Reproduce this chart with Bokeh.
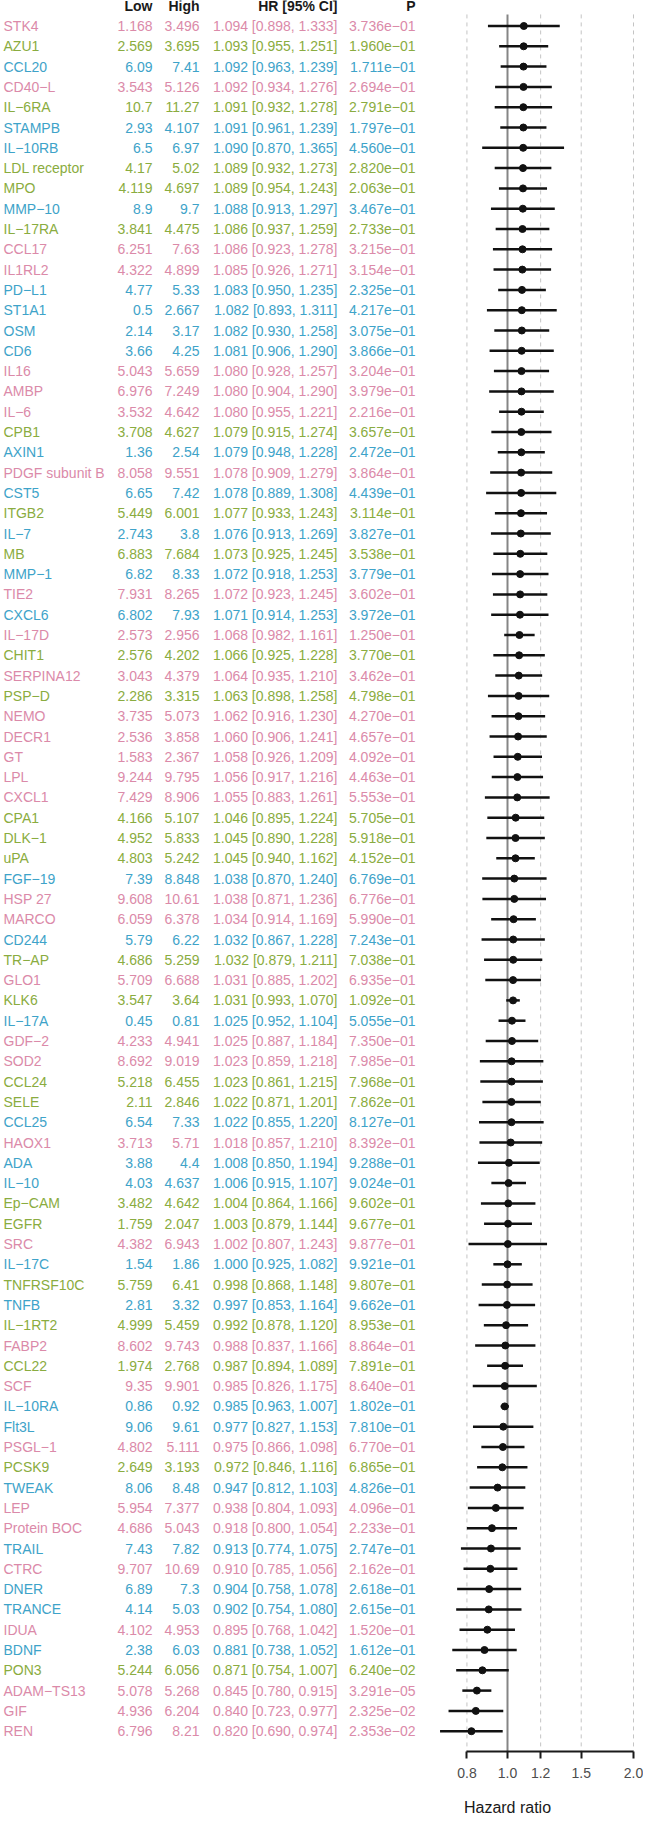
import math
from bokeh.plotting import figure
from bokeh.models import (ColumnDataSource, Range1d, FixedTicker, PrintfTickFormatter,
                          LogAxis, LogScale)
from bokeh.embed import file_html
from bokeh.resources import INLINE
from bokeh.core.properties import value

GENES = ["STK4", "AZU1", "CCL20", "CD40-L", "IL-6RA", "STAMPB", "IL-10RB", "LDL receptor", "MPO", "MMP-10",
         "IL-17RA", "CCL17", "IL1RL2", "PD-L1", "ST1A1", "OSM", "CD6", "IL16", "AMBP", "IL-6",
         "CPB1", "AXIN1", "PDGF subunit B", "CST5", "ITGB2", "IL-7", "MB", "MMP-1", "TIE2", "CXCL6",
         "IL-17D", "CHIT1", "SERPINA12", "PSP-D", "NEMO", "DECR1", "GT", "LPL", "CXCL1", "CPA1",
         "DLK-1", "uPA", "FGF-19", "HSP 27", "MARCO", "CD244", "TR-AP", "GLO1", "KLK6", "IL-17A",
         "GDF-2", "SOD2", "CCL24", "SELE", "CCL25", "HAOX1", "ADA", "IL-10", "Ep-CAM", "EGFR",
         "SRC", "IL-17C", "TNFRSF10C", "TNFB", "IL-1RT2", "FABP2", "CCL22", "SCF", "IL-10RA", "Flt3L",
         "PSGL-1", "PCSK9", "TWEAK", "LEP", "Protein BOC", "TRAIL", "CTRC", "DNER", "TRANCE", "IDUA",
         "BDNF", "PON3", "ADAM-TS13", "GIF", "REN"]

GROUP = ["p", "g", "b", "p", "g", "b", "b", "g", "g", "b",
         "g", "p", "p", "b", "b", "b", "b", "p", "p", "p",
         "g", "b", "p", "b", "g", "b", "g", "b", "p", "b",
         "p", "g", "p", "g", "p", "p", "p", "p", "p", "g",
         "g", "g", "b", "p", "p", "b", "g", "p", "g", "b",
         "p", "p", "g", "g", "b", "p", "b", "b", "g", "g",
         "p", "b", "g", "b", "g", "p", "g", "p", "b", "b",
         "p", "g", "b", "p", "p", "b", "p", "b", "b", "p",
         "b", "g", "p", "p", "p"]

LOW = [1.168, 2.569, 6.09, 3.543, 10.7, 2.93, 6.5, 4.17, 4.119, 8.9,
       3.841, 6.251, 4.322, 4.77, 0.5, 2.14, 3.66, 5.043, 6.976, 3.532,
       3.708, 1.36, 8.058, 6.65, 5.449, 2.743, 6.883, 6.82, 7.931, 6.802,
       2.573, 2.576, 3.043, 2.286, 3.735, 2.536, 1.583, 9.244, 7.429, 4.166,
       4.952, 4.803, 7.39, 9.608, 6.059, 5.79, 4.686, 5.709, 3.547, 0.45,
       4.233, 8.692, 5.218, 2.11, 6.54, 3.713, 3.88, 4.03, 3.482, 1.759,
       4.382, 1.54, 5.759, 2.81, 4.999, 8.602, 1.974, 9.35, 0.86, 9.06,
       4.802, 2.649, 8.06, 5.954, 4.686, 7.43, 9.707, 6.89, 4.14, 4.102,
       2.38, 5.244, 5.078, 4.936, 6.796]

HIGH = [3.496, 3.695, 7.41, 5.126, 11.27, 4.107, 6.97, 5.02, 4.697, 9.7,
        4.475, 7.63, 4.899, 5.33, 2.667, 3.17, 4.25, 5.659, 7.249, 4.642,
        4.627, 2.54, 9.551, 7.42, 6.001, 3.8, 7.684, 8.33, 8.265, 7.93,
        2.956, 4.202, 4.379, 3.315, 5.073, 3.858, 2.367, 9.795, 8.906, 5.107,
        5.833, 5.242, 8.848, 10.61, 6.378, 6.22, 5.259, 6.688, 3.64, 0.81,
        4.941, 9.019, 6.455, 2.846, 7.33, 5.71, 4.4, 4.637, 4.642, 2.047,
        6.943, 1.86, 6.41, 3.32, 5.459, 9.743, 2.768, 9.901, 0.92, 9.61,
        5.111, 3.193, 8.48, 7.377, 5.043, 7.82, 10.69, 7.3, 5.03, 4.953,
        6.03, 6.056, 5.268, 6.204, 8.21]

HR = [1.094, 1.093, 1.092, 1.092, 1.091, 1.091, 1.090, 1.089, 1.089, 1.088,
      1.086, 1.086, 1.085, 1.083, 1.082, 1.082, 1.081, 1.080, 1.080, 1.080,
      1.079, 1.079, 1.078, 1.078, 1.077, 1.076, 1.073, 1.072, 1.072, 1.071,
      1.068, 1.066, 1.064, 1.063, 1.062, 1.060, 1.058, 1.056, 1.055, 1.046,
      1.045, 1.045, 1.038, 1.038, 1.034, 1.032, 1.032, 1.031, 1.031, 1.025,
      1.025, 1.023, 1.023, 1.022, 1.022, 1.018, 1.008, 1.006, 1.004, 1.003,
      1.002, 1.000, 0.998, 0.997, 0.992, 0.988, 0.987, 0.985, 0.985, 0.977,
      0.975, 0.972, 0.947, 0.938, 0.918, 0.913, 0.910, 0.904, 0.902, 0.895,
      0.881, 0.871, 0.845, 0.840, 0.820]

HR_LO = [0.898, 0.955, 0.963, 0.934, 0.932, 0.961, 0.870, 0.932, 0.954, 0.913,
         0.937, 0.923, 0.926, 0.950, 0.893, 0.930, 0.906, 0.928, 0.904, 0.955,
         0.915, 0.948, 0.909, 0.889, 0.933, 0.913, 0.925, 0.918, 0.923, 0.914,
         0.982, 0.925, 0.935, 0.898, 0.916, 0.906, 0.926, 0.917, 0.883, 0.895,
         0.890, 0.940, 0.870, 0.871, 0.914, 0.867, 0.879, 0.885, 0.993, 0.952,
         0.887, 0.859, 0.861, 0.871, 0.855, 0.857, 0.850, 0.915, 0.864, 0.879,
         0.807, 0.925, 0.868, 0.853, 0.878, 0.837, 0.894, 0.826, 0.963, 0.827,
         0.866, 0.846, 0.812, 0.804, 0.800, 0.774, 0.785, 0.758, 0.754, 0.768,
         0.738, 0.754, 0.780, 0.723, 0.690]

HR_HI = [1.333, 1.251, 1.239, 1.276, 1.278, 1.239, 1.365, 1.273, 1.243, 1.297,
         1.259, 1.278, 1.271, 1.235, 1.311, 1.258, 1.290, 1.257, 1.290, 1.221,
         1.274, 1.228, 1.279, 1.308, 1.243, 1.269, 1.245, 1.253, 1.245, 1.253,
         1.161, 1.228, 1.210, 1.258, 1.230, 1.241, 1.209, 1.216, 1.261, 1.224,
         1.228, 1.162, 1.240, 1.236, 1.169, 1.228, 1.211, 1.202, 1.070, 1.104,
         1.184, 1.218, 1.215, 1.201, 1.220, 1.210, 1.194, 1.107, 1.166, 1.144,
         1.243, 1.082, 1.148, 1.164, 1.120, 1.166, 1.089, 1.175, 1.007, 1.153,
         1.098, 1.116, 1.103, 1.093, 1.054, 1.075, 1.056, 1.078, 1.080, 1.042,
         1.052, 1.007, 0.915, 0.977, 0.974]

PVAL = [3.736e-01, 1.960e-01, 1.711e-01, 2.694e-01, 2.791e-01, 1.797e-01, 4.560e-01, 2.820e-01, 2.063e-01, 3.467e-01,
        2.733e-01, 3.215e-01, 3.154e-01, 2.325e-01, 4.217e-01, 3.075e-01, 3.866e-01, 3.204e-01, 3.979e-01, 2.216e-01,
        3.657e-01, 2.472e-01, 3.864e-01, 4.439e-01, 3.114e-01, 3.827e-01, 3.538e-01, 3.779e-01, 3.602e-01, 3.972e-01,
        1.250e-01, 3.770e-01, 3.462e-01, 4.798e-01, 4.270e-01, 4.657e-01, 4.092e-01, 4.463e-01, 5.553e-01, 5.705e-01,
        5.918e-01, 4.152e-01, 6.769e-01, 6.776e-01, 5.990e-01, 7.243e-01, 7.038e-01, 6.935e-01, 1.092e-01, 5.055e-01,
        7.350e-01, 7.985e-01, 7.968e-01, 7.862e-01, 8.127e-01, 8.392e-01, 9.288e-01, 9.024e-01, 9.602e-01, 9.677e-01,
        9.877e-01, 9.921e-01, 9.807e-01, 9.662e-01, 8.953e-01, 8.864e-01, 7.891e-01, 8.640e-01, 1.802e-01, 7.810e-01,
        6.770e-01, 6.865e-01, 4.826e-01, 4.096e-01, 2.233e-01, 2.747e-01, 2.162e-01, 2.618e-01, 2.615e-01, 1.520e-01,
        1.612e-01, 6.240e-02, 3.291e-05, 2.325e-02, 2.353e-02]

HEADERS = ["Low", "High", "HR [95% CI]", "P"]
TICKS = [0.8, 1.0, 1.2, 1.5, 2.0]
TICK_LABELS = ["0.8", "1.0", "1.2", "1.5", "2.0"]
REF_HR = 1.0
X_LABEL = "Hazard ratio"

# ---------------- styling / layout ----------------
COLORS = {"p": "#db8aa9", "g": "#8aac40", "b": "#3ea3c9"}
FONT = "Liberation Sans"
FS = "14px"
MINUS = "\u2212"

W, H = 643, 1815
ROW_H, TOP0 = 20.3, 25.5          # px per row, px from top to first row
X_ONE, PX_PER_LN = 507.0, 181.78  # px position of HR = 1 and px per log unit

n = len(GENES)
rows = list(range(n))
AXIS_ROW = n                       # axis sits one row below the last entry
HEADER_ROW = -0.985
LABEL_ROW = n + 2.76
GRID_TOP = -0.57

def disp(s):
    return s.replace("-", MINUS)

src = ColumnDataSource(dict(
    y=rows,
    name=[disp(g) for g in GENES],
    low=[repr(v) for v in LOW],
    high=[repr(v) for v in HIGH],
    hr=HR, lo=HR_LO, hi=HR_HI,
    hrtxt=["%.3f [%.3f, %.3f]" % (a, b, c) for a, b, c in zip(HR, HR_LO, HR_HI)],
    ptxt=[disp("%.3e" % v) for v in PVAL],
    color=[COLORS[g] for g in GROUP],
))

p = figure(width=W, height=H, x_range=Range1d(0, W),
           y_range=Range1d((H - TOP0) / ROW_H, -TOP0 / ROW_H),
           toolbar_location=None, output_backend="svg", min_border=0,
           x_axis_location=None, y_axis_location=None, title=None,
           outline_line_color=None)
p.grid.visible = False
p.extra_x_ranges = {"hr": Range1d(math.exp(-X_ONE / PX_PER_LN), math.exp((W - X_ONE) / PX_PER_LN))}
p.extra_x_scales = {"hr": LogScale()}

# ---------------- table ----------------
common = dict(source=src, text_color="color", text_font=value(FONT),
              text_font_size=FS, text_baseline="middle")
p.text(x=3, y="y", text="name", text_align="left", **common)
p.text(x=152, y="y", text="low", text_align="right", **common)
p.text(x=199, y="y", text="high", text_align="right", **common)
p.text(x=337, y="y", text="hrtxt", text_align="right", **common)
p.text(x=415, y="y", text="ptxt", text_align="right", **common)

hsrc = ColumnDataSource(dict(x=[152, 199, 337, 415], y=[HEADER_ROW] * 4, t=HEADERS))
p.text(x="x", y="y", text="t", source=hsrc, text_align="right", text_baseline="middle",
       text_font=value(FONT), text_font_size=FS, text_font_style="bold", text_color="#1a1a1a")

# ---------------- forest ----------------
dashed = [t for t in TICKS if t != REF_HR]
p.segment(x0=dashed, x1=dashed, y0=[GRID_TOP] * len(dashed), y1=[AXIS_ROW] * len(dashed),
          line_color="#c4c4c4", line_width=1, line_dash="4 4", x_range_name="hr")
p.segment(x0=[REF_HR], x1=[REF_HR], y0=[GRID_TOP], y1=[AXIS_ROW],
          line_color="#858585", line_width=2, x_range_name="hr")

p.segment(x0="lo", x1="hi", y0="y", y1="y", source=src, line_color="#111111",
          line_width=2.5, x_range_name="hr")
p.scatter(x="hr", y="y", source=src, size=7, color="#111111", x_range_name="hr")

ax = LogAxis(x_range_name="hr", fixed_location=AXIS_ROW)
ax.ticker = FixedTicker(ticks=TICKS)
ax.formatter = PrintfTickFormatter(format="%.1f")
ax.major_label_overrides = {t: l for t, l in zip(TICKS, TICK_LABELS)}
ax.bounds = (TICKS[0], TICKS[-1])
ax.axis_line_width = 2
ax.axis_line_color = "#1a1a1a"
ax.major_tick_line_width = 2
ax.major_tick_line_color = "#1a1a1a"
ax.major_tick_out = 7
ax.major_tick_in = 0
ax.minor_tick_line_color = None
ax.major_label_text_font = FONT
ax.major_label_text_font_size = FS
ax.major_label_text_color = "#4d4d4d"
ax.major_label_standoff = 9
p.add_layout(ax, "below")

p.text(x=[REF_HR], y=[LABEL_ROW], text=[X_LABEL], x_range_name="hr", text_align="center",
       text_baseline="middle", text_font=value(FONT), text_font_size="16px", text_color="#1a1a1a")

open("out.html", "w").write(file_html(p, INLINE))
